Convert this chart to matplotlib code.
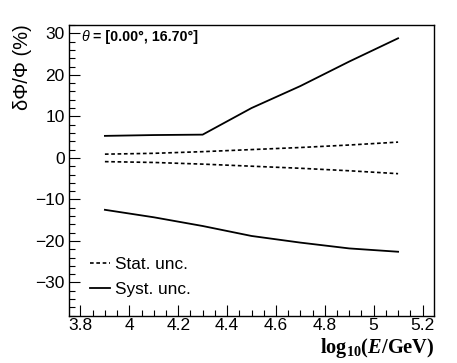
import matplotlib
matplotlib.use("Agg")
import matplotlib.pyplot as plt
from matplotlib.ticker import MultipleLocator

plt.rcParams['font.family'] = ['Liberation Sans', 'DejaVu Sans']
plt.rcParams['mathtext.fontset'] = 'custom'
plt.rcParams['mathtext.rm'] = 'Liberation Serif:bold'
plt.rcParams['mathtext.it'] = 'Liberation Serif:bold:italic'
plt.rcParams['mathtext.bf'] = 'Liberation Serif:bold'

log_e = [3.9, 4.1, 4.3, 4.5, 4.7, 4.9, 5.1]
stat_up = [0.9, 1.1, 1.5, 2.0, 2.5, 3.1, 3.8]
stat_down = [-0.9, -1.1, -1.5, -2.0, -2.5, -3.1, -3.8]
syst_up = [5.3, 5.5, 5.6, 12.0, 17.3, 23.2, 28.8]
syst_down = [-12.5, -14.3, -16.4, -18.8, -20.4, -21.8, -22.6]

fig = plt.figure(figsize=(4.57, 3.63), dpi=100)
ax = fig.add_axes([69/457, 1-315.7/363, (434-69)/457, (315.7-25)/363])

ls_stat = (0, (2.2, 1.6))
ax.plot(log_e, stat_up, color='black', lw=1.2, ls=ls_stat, label='Stat. unc.')
ax.plot(log_e, stat_down, color='black', lw=1.2, ls=ls_stat)
ax.plot(log_e, syst_up, color='black', lw=1.3, label='Syst. unc.')
ax.plot(log_e, syst_down, color='black', lw=1.3)

ax.set_xlim(3.753, 5.247)
ax.set_ylim(-38, 32)
ax.xaxis.set_minor_locator(MultipleLocator(0.05))
ax.yaxis.set_minor_locator(MultipleLocator(2))
ax.set_xticks([3.8, 4.0, 4.2, 4.4, 4.6, 4.8, 5.0, 5.2])
ax.set_xticklabels(['3.8', '4', '4.2', '4.4', '4.6', '4.8', '5', '5.2'])
ax.set_yticks([-30, -20, -10, 0, 10, 20, 30])
ax.set_yticklabels(['\u221230', '\u221220', '\u221210', '0', '10', '20', '30'])
ax.tick_params(which='both', direction='in', top=False, right=False, labelsize=12.5, width=0.8)
ax.tick_params(which='major', length=8)
ax.tick_params(which='minor', length=4)
ax.tick_params(axis='x', pad=2)
ax.tick_params(axis='y', pad=3)
for s in ax.spines.values():
    s.set_linewidth(1.0)

fig.text(22/457, 1-24/363, '\u03b4\u03a6/\u03a6 (%)', rotation=90, ha='center', va='top', fontsize=14.5)
fig.text(434/457, 1-348/363, r'$\mathrm{log}_{10}(\mathit{E}/\mathrm{GeV})$', ha='right', va='center', fontsize=14.7)

th = fig.text(81/457, 1-37/363, '\u03b8', style='italic', fontsize=10.3, ha='left', va='center')
ax.annotate(' = [0.00\u00b0, 16.70\u00b0]', xy=(1, 0), xycoords=th, va='bottom', ha='left',
            fontsize=10.3, fontweight='bold', annotation_clip=False)

ax.legend(loc='lower left', bbox_to_anchor=(0.058, 0.063), frameon=False, fontsize=12.4,
          handlelength=1.15, handletextpad=0.3, labelspacing=0.62, borderaxespad=0,
          borderpad=0)

fig.savefig('out.png', dpi=100)
